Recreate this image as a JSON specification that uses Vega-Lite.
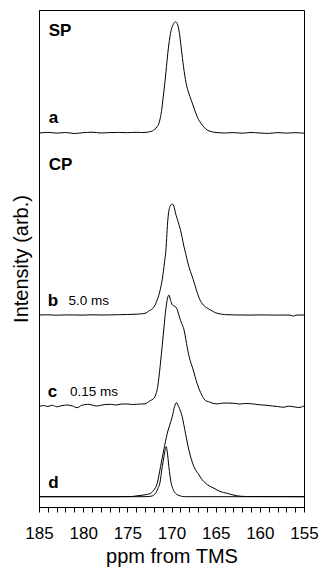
{
  "$schema": "https://vega.github.io/schema/vega-lite/v6.json",
  "autosize": "none",
  "width": 265,
  "height": 497,
  "padding": {"left": 39, "top": 10, "right": 18, "bottom": 62},
  "background": "white",
  "config": {
    "view": {"stroke": "black", "strokeWidth": 1},
    "font": "Liberation Sans",
    "axis": {"domainColor": "black", "tickColor": "black", "labelColor": "black", "titleColor": "black", "grid": false}
  },
  "datasets": {
    "spectra": [
      {"s":"a","x":185,"y":374.0},{"s":"a","x":184,"y":374.6},{"s":"a","x":183,"y":373.9},{"s":"a","x":182,"y":374.5},{"s":"a","x":181,"y":373.5},{"s":"a","x":180,"y":374.3},{"s":"a","x":179,"y":374.8},{"s":"a","x":178,"y":374.0},{"s":"a","x":177,"y":374.4},{"s":"a","x":176,"y":374.6},{"s":"a","x":175,"y":374.3},{"s":"a","x":174,"y":374.7},{"s":"a","x":173.5,"y":374.5},{"s":"a","x":173,"y":374.6},{"s":"a","x":172.5,"y":375.2},{"s":"a","x":172.18,"y":376.0},{"s":"a","x":171.9,"y":377.6},{"s":"a","x":171.62,"y":380.3},{"s":"a","x":171.4,"y":384.3},{"s":"a","x":171.24,"y":390.3},{"s":"a","x":171.1,"y":397.6},{"s":"a","x":170.98,"y":406.9},{"s":"a","x":170.76,"y":423.6},{"s":"a","x":170.57,"y":440.3},{"s":"a","x":170.38,"y":457.0},{"s":"a","x":170.11,"y":473.6},{"s":"a","x":169.74,"y":483.6},{"s":"a","x":169.55,"y":485.3},{"s":"a","x":169.36,"y":483.6},{"s":"a","x":169.1,"y":473.6},{"s":"a","x":168.87,"y":457.0},{"s":"a","x":168.64,"y":440.3},{"s":"a","x":168.34,"y":423.6},{"s":"a","x":168.05,"y":414.0},{"s":"a","x":167.77,"y":406.9},{"s":"a","x":167.4,"y":397.6},{"s":"a","x":167.09,"y":390.3},{"s":"a","x":166.8,"y":385.4},{"s":"a","x":166.52,"y":382.0},{"s":"a","x":166.2,"y":378.7},{"s":"a","x":165.96,"y":377.0},{"s":"a","x":165.5,"y":375.4},{"s":"a","x":165.2,"y":374.8},{"s":"a","x":164.5,"y":374.2},{"s":"a","x":164,"y":374.0},{"s":"a","x":163,"y":374.4},{"s":"a","x":162,"y":373.8},{"s":"a","x":161,"y":374.5},{"s":"a","x":160,"y":374.0},{"s":"a","x":159,"y":373.6},{"s":"a","x":158,"y":374.4},{"s":"a","x":157,"y":373.9},{"s":"a","x":156,"y":374.3},{"s":"a","x":155,"y":373.8},

      {"s":"b","x":185,"y":192.0},{"s":"b","x":184,"y":192.2},{"s":"b","x":183,"y":191.8},{"s":"b","x":182,"y":192.1},{"s":"b","x":181,"y":192.0},{"s":"b","x":180,"y":191.9},{"s":"b","x":179,"y":192.2},{"s":"b","x":178,"y":192.0},{"s":"b","x":177,"y":192.1},{"s":"b","x":176,"y":192.3},{"s":"b","x":175,"y":192.5},{"s":"b","x":174,"y":192.8},{"s":"b","x":173.5,"y":193.1},{"s":"b","x":173,"y":193.7},{"s":"b","x":172.5,"y":196.4},{"s":"b","x":172,"y":199.8},{"s":"b","x":171.6,"y":207.5},{"s":"b","x":171.3,"y":216.4},{"s":"b","x":171.05,"y":227.5},{"s":"b","x":170.8,"y":244.2},{"s":"b","x":170.6,"y":260.8},{"s":"b","x":170.5,"y":276.4},{"s":"b","x":170.35,"y":293.0},{"s":"b","x":170.15,"y":300.8},{"s":"b","x":169.9,"y":303.0},{"s":"b","x":169.7,"y":299.7},{"s":"b","x":169.55,"y":294.1},{"s":"b","x":169.25,"y":285.2},{"s":"b","x":169.0,"y":277.5},{"s":"b","x":168.8,"y":269.7},{"s":"b","x":168.6,"y":260.8},{"s":"b","x":168.4,"y":253.6},{"s":"b","x":168.15,"y":244.2},{"s":"b","x":167.85,"y":235.3},{"s":"b","x":167.54,"y":227.5},{"s":"b","x":167.2,"y":217.5},{"s":"b","x":166.8,"y":207.5},{"s":"b","x":166.4,"y":202.0},{"s":"b","x":166.0,"y":199.2},{"s":"b","x":165.58,"y":197.0},{"s":"b","x":165.0,"y":194.2},{"s":"b","x":164.5,"y":193.1},{"s":"b","x":164,"y":192.4},{"s":"b","x":163,"y":192.1},{"s":"b","x":162,"y":192.0},{"s":"b","x":161,"y":191.9},{"s":"b","x":160,"y":192.1},{"s":"b","x":159,"y":192.0},{"s":"b","x":158,"y":191.9},{"s":"b","x":157,"y":192.0},{"s":"b","x":156.5,"y":191.8},{"s":"b","x":156.2,"y":190.8},{"s":"b","x":155.9,"y":191.9},{"s":"b","x":155,"y":192.0},

      {"s":"c","x":185,"y":100.3},{"s":"c","x":184.5,"y":101.5},{"s":"c","x":184,"y":100.5},{"s":"c","x":183.5,"y":101.8},{"s":"c","x":183,"y":100.2},{"s":"c","x":182.5,"y":101.2},{"s":"c","x":181.8,"y":102.0},{"s":"c","x":181.2,"y":101.0},{"s":"c","x":180.7,"y":99.3},{"s":"c","x":180.2,"y":101.5},{"s":"c","x":179.5,"y":102.7},{"s":"c","x":179,"y":102.0},{"s":"c","x":178.5,"y":101.0},{"s":"c","x":178,"y":101.7},{"s":"c","x":177.5,"y":102.5},{"s":"c","x":176.9,"y":102.7},{"s":"c","x":176.3,"y":102.0},{"s":"c","x":175.6,"y":103.0},{"s":"c","x":175,"y":103.0},{"s":"c","x":174.4,"y":102.5},{"s":"c","x":173.5,"y":103.0},{"s":"c","x":173,"y":103.1},{"s":"c","x":172.75,"y":104.2},{"s":"c","x":172.4,"y":106.4},{"s":"c","x":172,"y":108.6},{"s":"c","x":171.8,"y":111.9},{"s":"c","x":171.6,"y":118.5},{"s":"c","x":171.44,"y":128.4},{"s":"c","x":171.25,"y":143.8},{"s":"c","x":171.05,"y":161.4},{"s":"c","x":170.87,"y":177.9},{"s":"c","x":170.7,"y":193.3},{"s":"c","x":170.5,"y":206.5},{"s":"c","x":170.3,"y":212.0},{"s":"c","x":170.1,"y":206.5},{"s":"c","x":169.9,"y":202.1},{"s":"c","x":169.7,"y":201.0},{"s":"c","x":169.5,"y":199.9},{"s":"c","x":169.35,"y":197.3},{"s":"c","x":169.1,"y":190.0},{"s":"c","x":168.85,"y":183.4},{"s":"c","x":168.6,"y":177.9},{"s":"c","x":168.3,"y":163.6},{"s":"c","x":168.04,"y":151.5},{"s":"c","x":167.75,"y":142.7},{"s":"c","x":167.47,"y":135.0},{"s":"c","x":167.2,"y":126.2},{"s":"c","x":166.9,"y":118.5},{"s":"c","x":166.5,"y":110.8},{"s":"c","x":166.15,"y":106.4},{"s":"c","x":165.8,"y":105.3},{"s":"c","x":165.3,"y":103.7},{"s":"c","x":164.8,"y":103.1},{"s":"c","x":164.3,"y":103.8},{"s":"c","x":163.7,"y":104.0},{"s":"c","x":162.9,"y":103.7},{"s":"c","x":162.3,"y":103.0},{"s":"c","x":161.6,"y":103.5},{"s":"c","x":160.7,"y":103.0},{"s":"c","x":160,"y":102.2},{"s":"c","x":159.2,"y":101.7},{"s":"c","x":158.6,"y":101.0},{"s":"c","x":158,"y":100.5},{"s":"c","x":157.3,"y":99.7},{"s":"c","x":156.8,"y":100.8},{"s":"c","x":156.2,"y":100.3},{"s":"c","x":155.6,"y":99.5},{"s":"c","x":155,"y":101.0},

      {"s":"d1","x":185,"y":10.3},{"s":"d1","x":176,"y":10.3},{"s":"d1","x":174.5,"y":10.5},{"s":"d1","x":173.9,"y":11.2},{"s":"d1","x":173,"y":12.2},{"s":"d1","x":172.38,"y":13.7},{"s":"d1","x":172,"y":16.9},{"s":"d1","x":171.62,"y":23.5},{"s":"d1","x":171.24,"y":40.4},{"s":"d1","x":170.87,"y":57.3},{"s":"d1","x":170.49,"y":73.3},{"s":"d1","x":169.92,"y":90.2},{"s":"d1","x":169.65,"y":100.5},{"s":"d1","x":169.43,"y":104.3},{"s":"d1","x":169.2,"y":100.5},{"s":"d1","x":168.79,"y":90.2},{"s":"d1","x":168.41,"y":73.3},{"s":"d1","x":168.04,"y":57.3},{"s":"d1","x":167.47,"y":40.4},{"s":"d1","x":166.95,"y":32.9},{"s":"d1","x":166.52,"y":27.2},{"s":"d1","x":165.9,"y":22.1},{"s":"d1","x":165.2,"y":18.8},{"s":"d1","x":164.5,"y":15.5},{"s":"d1","x":163.7,"y":13.7},{"s":"d1","x":162.6,"y":11.2},{"s":"d1","x":161.5,"y":10.5},{"s":"d1","x":155,"y":10.3},

      {"s":"d2","x":185,"y":10.3},{"s":"d2","x":173,"y":10.3},{"s":"d2","x":172.3,"y":10.8},{"s":"d2","x":171.81,"y":13.7},{"s":"d2","x":171.55,"y":18.3},{"s":"d2","x":171.32,"y":23.7},{"s":"d2","x":171.05,"y":40.3},{"s":"d2","x":170.85,"y":50.3},{"s":"d2","x":170.72,"y":57.3},{"s":"d2","x":170.6,"y":60.3},{"s":"d2","x":170.48,"y":55.3},{"s":"d2","x":170.3,"y":40.3},{"s":"d2","x":170.03,"y":23.7},{"s":"d2","x":169.8,"y":17.3},{"s":"d2","x":169.55,"y":13.7},{"s":"d2","x":169.0,"y":11.1},{"s":"d2","x":168.5,"y":10.3},{"s":"d2","x":155,"y":10.3}
    ],
    "letters": [
      {"t":"SP","x":183.9,"y":471},
      {"t":"a","x":183.9,"y":383.7},
      {"t":"CP","x":183.9,"y":337},
      {"t":"b","x":184.0,"y":201.3},
      {"t":"c","x":184.0,"y":110.3},
      {"t":"d","x":183.95,"y":18.7}
    ],
    "notes": [
      {"t":"5.0 ms","x":181.65,"y":202},
      {"t":"0.15 ms","x":181.5,"y":111}
    ]
  },
  "layer": [
    {
      "data": {"name": "spectra"},
      "mark": {"type": "line", "color": "black", "strokeWidth": 1, "interpolate": "monotone"},
      "encoding": {
        "x": {
          "field": "x", "type": "quantitative",
          "scale": {"domain": [155, 185], "reverse": true, "nice": false, "zero": false},
          "axis": {
            "title": "ppm from TMS",
            "titleFontSize": 20, "titleFontWeight": "normal", "titlePadding": 5,
            "labelFontSize": 17, "labelPadding": 13,
            "values": [185,184,183,182,181,180,179,178,177,176,175,174,173,172,171,170,169,168,167,166,165,164,163,162,161,160,159,158,157,156,155],
            "tickCount": 100,
            "format": "d",
            "labelExpr": "datum.value % 5 === 0 ? datum.label : ''",
            "tickSize": 5,
            "labelFlush": false, "labelOverlap": false,
            "encode": {"ticks": {"update": {"y2": {"signal": "datum.value % 5 === 0 ? 8 : 5"}}}}
          }
        },
        "y": {
          "field": "y", "type": "quantitative",
          "scale": {"domain": [0, 497], "nice": false, "zero": false},
          "axis": {"title": "Intensity (arb.)", "titleFontSize": 20, "titleFontWeight": "normal", "titlePadding": 8, "ticks": false, "labels": false}
        },
        "detail": {"field": "s"}
      }
    },
    {
      "data": {"name": "letters"},
      "mark": {"type": "text", "align": "left", "baseline": "alphabetic", "fontSize": 17, "fontWeight": "bold", "color": "black"},
      "encoding": {
        "x": {"field": "x", "type": "quantitative"},
        "y": {"field": "y", "type": "quantitative"},
        "text": {"field": "t"}
      }
    },
    {
      "data": {"name": "notes"},
      "mark": {"type": "text", "align": "left", "baseline": "alphabetic", "fontSize": 13.5, "color": "black"},
      "encoding": {
        "x": {"field": "x", "type": "quantitative"},
        "y": {"field": "y", "type": "quantitative"},
        "text": {"field": "t"}
      }
    }
  ]
}
